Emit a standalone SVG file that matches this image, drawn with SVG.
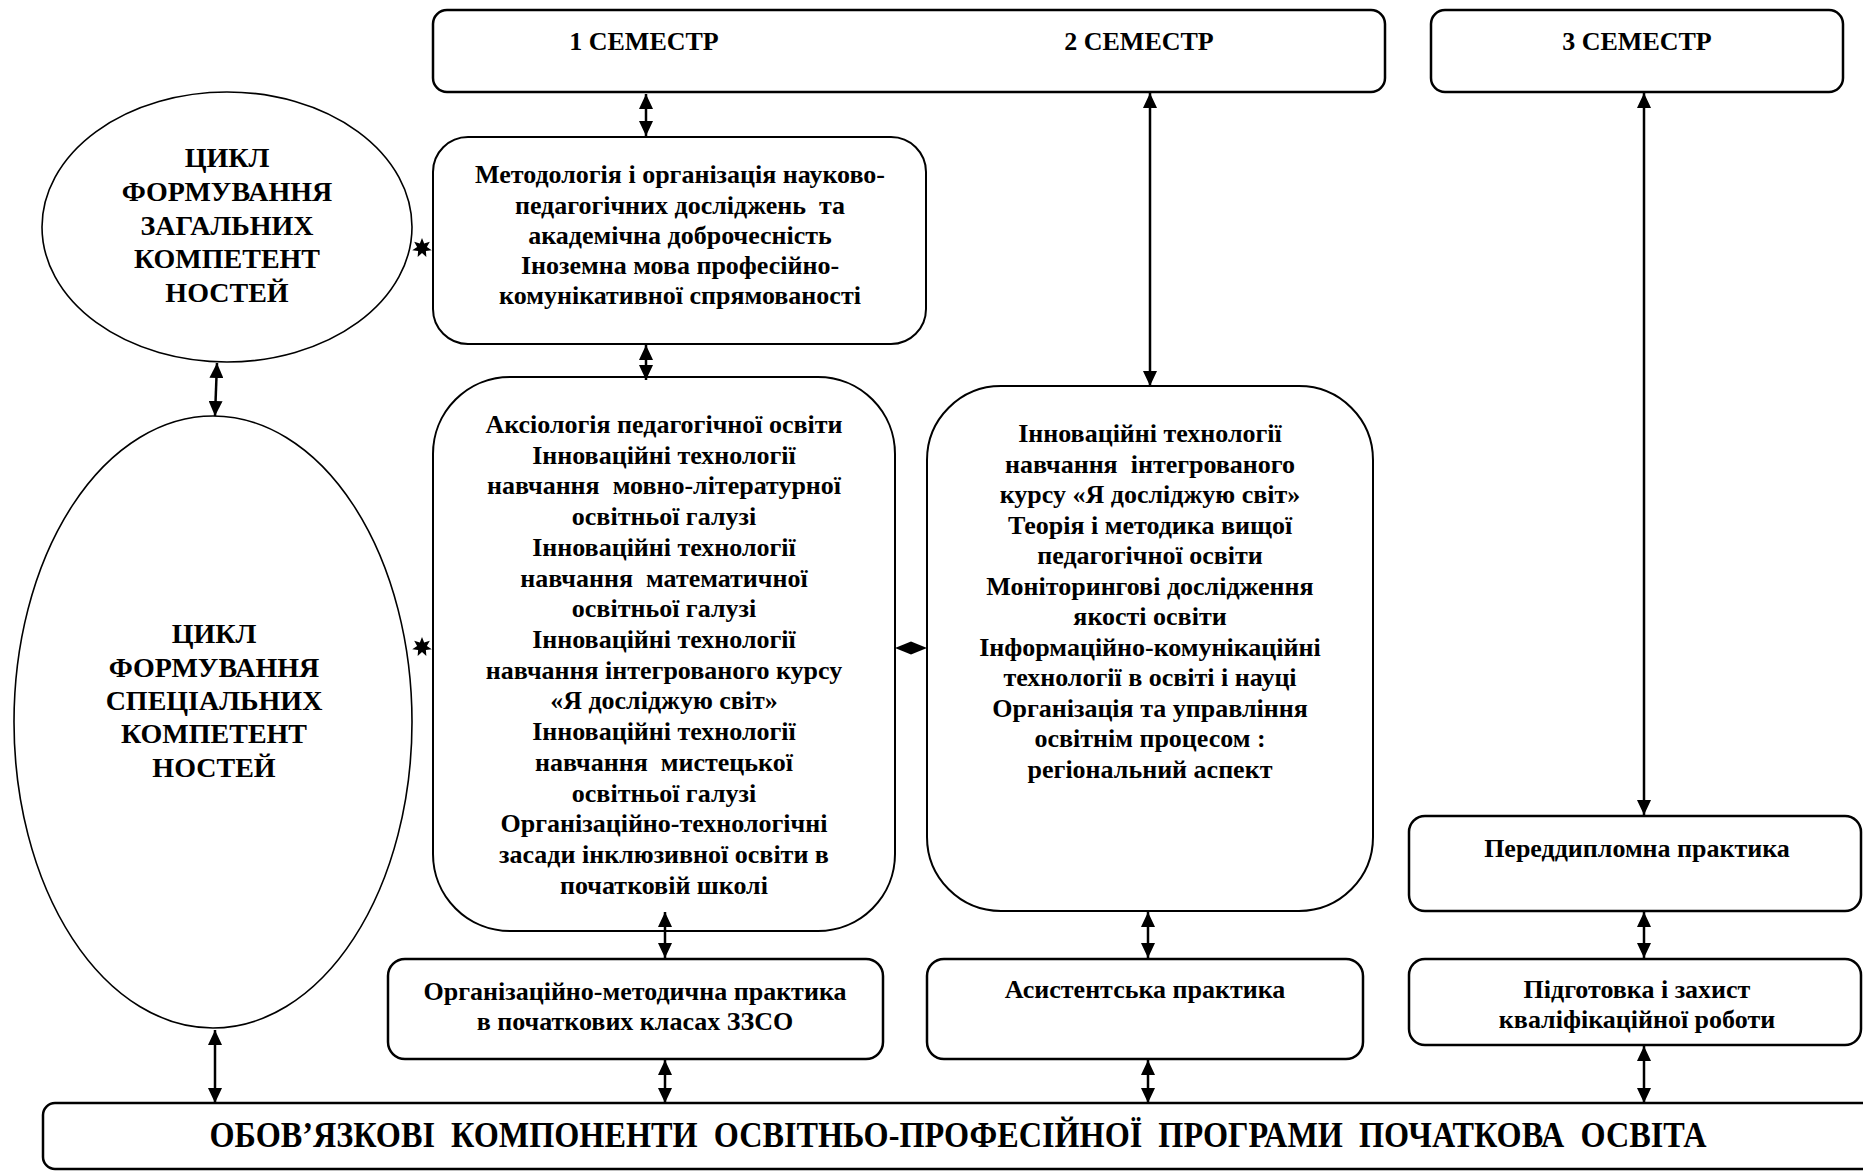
<svg xmlns="http://www.w3.org/2000/svg" width="1863" height="1171" viewBox="0 0 1863 1171">
<defs>
<style>
.box{fill:#fff;stroke:#000;stroke-width:2.5}
.rbox{fill:#fff;stroke:#000;stroke-width:2}
.ell{fill:#fff;stroke:#000;stroke-width:1.6}
.t{font-family:"Liberation Serif","Times New Roman",serif;font-weight:bold;font-size:26px;text-anchor:middle;fill:#000;white-space:pre}
.te{font-size:28px}
.tb{font-size:35px}
.conn{stroke:#000;stroke-width:2.5;fill:none;marker-start:url(#ah);marker-end:url(#ah)}
.mk{fill:#000;stroke:none}
</style>
<marker id="ah" viewBox="0 0 15 14" refX="15" refY="7" markerWidth="15" markerHeight="14" markerUnits="userSpaceOnUse" orient="auto-start-reverse">
<path d="M0,0 L15,7 L0,14 z" fill="#000"/>
</marker>
<path id="star" d="M0,-10 L2.17,-4.5 L7.82,-6.23 L4.87,-1.11 L9.75,2.23 L3.91,3.12 L4.34,9.01 L0,5 L-4.34,9.01 L-3.91,3.12 L-9.75,2.23 L-4.87,-1.11 L-7.82,-6.23 L-2.17,-4.5 Z"/>
</defs>

<g id="sem12">
<rect class="box" x="433" y="10" width="952" height="82" rx="14"/>
<text class="t" x="644" y="50">1 СЕМЕСТР</text>
<text class="t" x="1139" y="50">2 СЕМЕСТР</text>
</g>
<g id="sem3">
<rect class="box" x="1431" y="10" width="412" height="82" rx="14"/>
<text class="t" x="1637" y="50">3 СЕМЕСТР</text>
</g>

<g id="cycle-general">
<ellipse class="ell" cx="227" cy="227" rx="185" ry="135"/>
<text class="t te" x="227" y="167">ЦИКЛ</text>
<text class="t te" x="227" y="201">ФОРМУВАННЯ</text>
<text class="t te" x="227" y="235">ЗАГАЛЬНИХ</text>
<text class="t te" x="227" y="268">КОМПЕТЕНТ</text>
<text class="t te" x="227" y="302">НОСТЕЙ</text>
</g>

<g id="cycle-special">
<ellipse class="ell" cx="213" cy="722" rx="199" ry="306"/>
<text class="t te" x="214" y="643">ЦИКЛ</text>
<text class="t te" x="214" y="677">ФОРМУВАННЯ</text>
<text class="t te" x="214" y="710">СПЕЦІАЛЬНИХ</text>
<text class="t te" x="214" y="743">КОМПЕТЕНТ</text>
<text class="t te" x="214" y="777">НОСТЕЙ</text>
</g>

<g id="methodology">
<rect class="rbox" x="433" y="137" width="493" height="207" rx="35"/>
<text class="t" x="680" y="183">Методологія і організація науково-</text>
<text class="t" x="680" y="214">педагогічних досліджень  та</text>
<text class="t" x="680" y="244">академічна доброчесність</text>
<text class="t" x="680" y="274">Іноземна мова професійно-</text>
<text class="t" x="680" y="304">комунікативної спрямованості</text>
</g>

<g id="sem1-courses">
<rect class="rbox" x="433" y="377" width="462" height="554" rx="77"/>
<text class="t" x="664" y="433">Аксіологія педагогічної освіти</text>
<text class="t" x="664" y="464">Інноваційні технології</text>
<text class="t" x="664" y="494">навчання  мовно-літературної</text>
<text class="t" x="664" y="525">освітньої галузі</text>
<text class="t" x="664" y="556">Інноваційні технології</text>
<text class="t" x="664" y="587">навчання  математичної</text>
<text class="t" x="664" y="617">освітньої галузі</text>
<text class="t" x="664" y="648">Інноваційні технології</text>
<text class="t" x="664" y="679">навчання інтегрованого курсу</text>
<text class="t" x="664" y="709">«Я досліджую світ»</text>
<text class="t" x="664" y="740">Інноваційні технології</text>
<text class="t" x="664" y="771">навчання  мистецької</text>
<text class="t" x="664" y="802">освітньої галузі</text>
<text class="t" x="664" y="832">Організаційно-технологічні</text>
<text class="t" x="664" y="863">засади інклюзивної освіти в</text>
<text class="t" x="664" y="894">початковій школі</text>
</g>

<g id="sem2-courses">
<rect class="rbox" x="927" y="386" width="446" height="525" rx="74"/>
<text class="t" x="1150" y="442">Інноваційні технології</text>
<text class="t" x="1150" y="473">навчання  інтегрованого</text>
<text class="t" x="1150" y="503">курсу «Я досліджую світ»</text>
<text class="t" x="1150" y="534">Теорія і методика вищої</text>
<text class="t" x="1150" y="564">педагогічної освіти</text>
<text class="t" x="1150" y="595">Моніторингові дослідження</text>
<text class="t" x="1150" y="625">якості освіти</text>
<text class="t" x="1150" y="656">Інформаційно-комунікаційні</text>
<text class="t" x="1150" y="686">технології в освіті і науці</text>
<text class="t" x="1150" y="717">Організація та управління</text>
<text class="t" x="1150" y="747">освітнім процесом :</text>
<text class="t" x="1150" y="778">регіональний аспект</text>
</g>

<g id="practice-org">
<rect class="box" x="388" y="959" width="495" height="100" rx="17"/>
<text class="t" x="635" y="1000">Організаційно-методична практика</text>
<text class="t" x="635" y="1030">в початкових класах ЗЗСО</text>
</g>

<g id="practice-assist">
<rect class="box" x="927" y="959" width="436" height="100" rx="17"/>
<text class="t" x="1145" y="998">Асистентська практика</text>
</g>

<g id="practice-prediploma">
<rect class="box" x="1409" y="816" width="452" height="95" rx="16"/>
<text class="t" x="1637" y="857">Переддипломна практика</text>
</g>

<g id="thesis">
<rect class="box" x="1409" y="959" width="452" height="86" rx="16"/>
<text class="t" x="1637" y="998">Підготовка і захист</text>
<text class="t" x="1637" y="1028">кваліфікаційної роботи</text>
</g>

<g id="mandatory">
<rect class="box" x="43" y="1103" width="1860" height="66" rx="12"/>
<text class="t tb" x="958" y="1147" textLength="1497" lengthAdjust="spacingAndGlyphs">ОБОВ’ЯЗКОВІ  КОМПОНЕНТИ  ОСВІТНЬО-ПРОФЕСІЙНОЇ  ПРОГРАМИ  ПОЧАТКОВА  ОСВІТА</text>
</g>

<g id="connectors">
<line class="conn" x1="646" y1="94" x2="646" y2="136"/>
<line class="conn" x1="1150" y1="93" x2="1150" y2="386"/>
<line class="conn" x1="1644" y1="93" x2="1644" y2="815"/>
<line class="conn" x1="646" y1="345" x2="646" y2="380"/>
<line class="conn" x1="217" y1="363" x2="215" y2="416"/>
<line class="conn" x1="665" y1="912" x2="665" y2="958"/>
<line class="conn" x1="1148" y1="912" x2="1148" y2="958"/>
<line class="conn" x1="1644" y1="912" x2="1644" y2="958"/>
<line class="conn" x1="215" y1="1030" x2="215" y2="1103"/>
<line class="conn" x1="665" y1="1060" x2="665" y2="1103"/>
<line class="conn" x1="1148" y1="1060" x2="1148" y2="1103"/>
<line class="conn" x1="1644" y1="1046" x2="1644" y2="1103"/>
<use href="#star" class="mk" x="422" y="248"/>
<use href="#star" class="mk" x="422" y="647"/>
<polygon class="mk" points="895,648 911,641.5 927,648 911,654.5"/>
</g>
</svg>
